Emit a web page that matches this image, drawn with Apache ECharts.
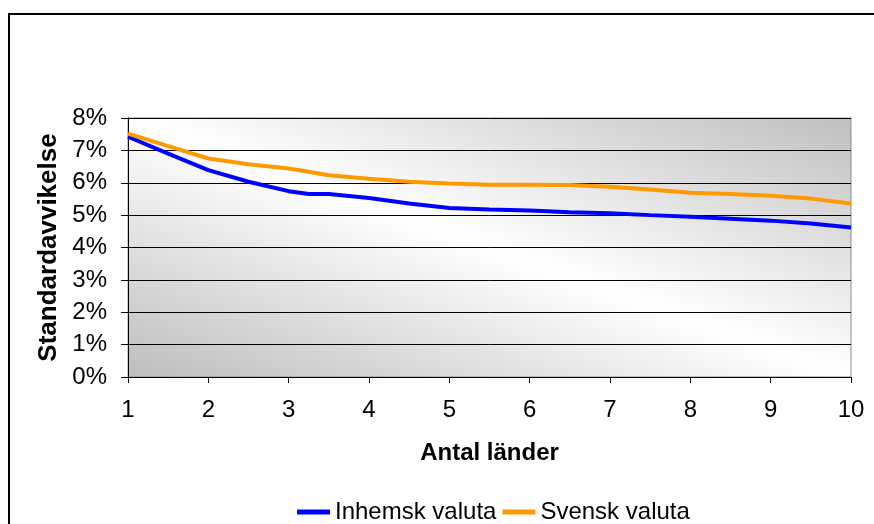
<!DOCTYPE html>
<html>
<head>
<meta charset="utf-8">
<script src="https://cdn.jsdelivr.net/npm/echarts@6/dist/echarts.min.js"></script>
<style>
  html, body { margin: 0; padding: 0; background: #fff; }
  #chart { width: 874px; height: 524px; }
</style>
</head>
<body>
<div id="chart"></div>
<script>
// Number of countries (x positions of the sampled points)
const antalLander = [1, 1.5, 2, 2.5, 3, 3.25, 3.5, 4, 4.5, 5, 5.5, 6, 6.5, 7, 7.5, 8, 8.5, 9, 9.5, 10];
// Standard deviation, percent
const inhemskValuta = [7.42, 6.90, 6.39, 6.03, 5.74, 5.65, 5.65, 5.53, 5.36, 5.22, 5.17, 5.14, 5.09, 5.06, 5.00, 4.95, 4.89, 4.83, 4.74, 4.62];
const svenskValuta  = [7.52, 7.13, 6.75, 6.57, 6.44, 6.34, 6.23, 6.12, 6.03, 5.98, 5.94, 5.94, 5.93, 5.88, 5.79, 5.69, 5.65, 5.60, 5.51, 5.36];
const seriesNames = ['Inhemsk valuta', 'Svensk valuta'];
const yTicks = [0, 1, 2, 3, 4, 5, 6, 7, 8];

const pairs = (xs, ys) => xs.map((x, i) => [x, ys[i]]);
const font = '"Liberation Sans", Arial, sans-serif';

const chart = echarts.init(document.getElementById('chart'), null, { renderer: 'canvas' });

// Plot area box (pixels) used for the diagonal background shading
const plot = { left: 128, top: 118, right: 851, bottom: 377 };
const cx = (plot.left + plot.right) / 2, cy = (plot.top + plot.bottom) / 2;
const w = plot.right - plot.left, h = plot.bottom - plot.top;
const len = Math.hypot(w, h);
const ux = h / len, uy = -w / len;                 // perpendicular to the box diagonal
const half = (w / 2) * ux - (h / 2) * uy;          // projection of the top-right corner

chart.setOption({
  animation: false,
  backgroundColor: '#ffffff',
  graphic: [{
    type: 'rect',
    shape: { x: 9, y: 14, width: 900, height: 600 },
    style: { fill: 'none', stroke: '#000', lineWidth: 2 },
    silent: true,
    z: 100
  }],
  grid: {
    left: plot.left, right: 874 - plot.right, top: plot.top, bottom: 524 - plot.bottom,
    show: true,
    borderColor: '#8c8c8c',
    borderWidth: 1,
    backgroundColor: new echarts.graphic.LinearGradient(
      cx - half * ux, cy - half * uy, cx + half * ux, cy + half * uy, [
        { offset: 0, color: '#bdbdbd' },
        { offset: 0.5, color: '#ffffff' },
        { offset: 1, color: '#bfbfbf' }
      ], true)
  },
  xAxis: {
    type: 'value',
    min: 1, max: 10, interval: 1,
    name: 'Antal länder',
    nameLocation: 'middle',
    nameGap: 64,
    nameTextStyle: { fontFamily: font, fontSize: 24, fontWeight: 'bold', color: '#000' },
    axisLine: { show: true, onZero: false, lineStyle: { color: '#000', width: 1 } },
    axisTick: { show: true, length: 6, lineStyle: { color: '#000' } },
    axisLabel: { fontFamily: font, fontSize: 24, color: '#000', margin: 21 },
    splitLine: { show: false }
  },
  yAxis: {
    type: 'value',
    min: 0, max: 8, interval: 1,
    name: 'Standardavvikelse',
    nameLocation: 'middle',
    nameGap: 66,
    nameRotate: 90,
    nameTextStyle: { fontFamily: font, fontSize: 26, fontWeight: 'bold', color: '#000' },
    axisLine: { show: true, lineStyle: { color: '#000', width: 1 } },
    axisTick: { show: true, length: 7, lineStyle: { color: '#000' } },
    axisLabel: {
      fontFamily: font, fontSize: 24, color: '#000', margin: 21,
      formatter: v => (yTicks.includes(v) ? v + '%' : '')
    },
    splitLine: { show: true, lineStyle: { color: '#000', width: 1 } }
  },
  legend: {
    top: 495,
    left: 292,
    icon: 'rect',
    itemWidth: 33,
    itemHeight: 5,
    itemGap: 6,
    textStyle: { fontFamily: font, fontSize: 24, color: '#000' },
    data: seriesNames
  },
  series: [
    {
      name: seriesNames[0],
      type: 'line',
      data: pairs(antalLander, inhemskValuta),
      showSymbol: false,
      lineStyle: { color: '#0000ff', width: 4 },
      itemStyle: { color: '#0000ff' }
    },
    {
      name: seriesNames[1],
      type: 'line',
      data: pairs(antalLander, svenskValuta),
      showSymbol: false,
      lineStyle: { color: '#ff9900', width: 4 },
      itemStyle: { color: '#ff9900' }
    }
  ]
});
</script>
</body>
</html>
